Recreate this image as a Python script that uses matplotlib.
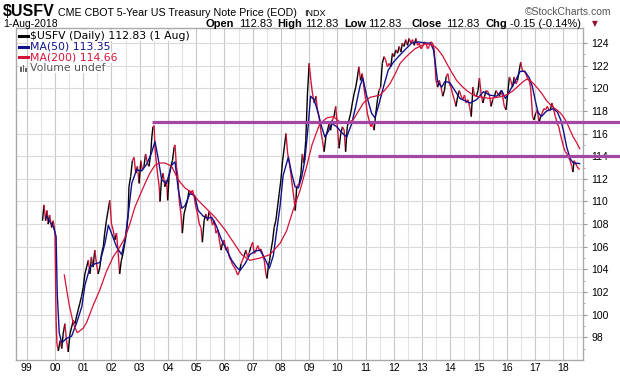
import matplotlib
matplotlib.use("Agg")
import matplotlib.pyplot as plt
from matplotlib.collections import LineCollection
from matplotlib.lines import Line2D
from matplotlib.patches import Rectangle

W, H = 620, 376

# price (decimal year, value)
price_t = [1999.56, 1999.61, 1999.67, 1999.72, 1999.76, 1999.81, 1999.88, 1999.94, 2000.00, 2000.04,
           2000.07, 2000.12, 2000.18, 2000.24, 2000.29, 2000.35, 2000.41, 2000.47, 2000.53, 2000.59,
           2000.65, 2000.71, 2000.76, 2000.82, 2000.88, 2000.94, 2001.00, 2001.06, 2001.12, 2001.18,
           2001.24, 2001.29, 2001.35, 2001.41, 2001.47, 2001.53, 2001.59, 2001.65, 2001.71, 2001.76,
           2001.82, 2001.88, 2001.94, 2002.00, 2002.06, 2002.12, 2002.18, 2002.24, 2002.29, 2002.35,
           2002.41, 2002.47, 2002.53, 2002.59, 2002.62, 2002.68, 2002.74, 2002.80, 2002.86, 2002.92,
           2002.98, 2003.04, 2003.09, 2003.15, 2003.21, 2003.27, 2003.33, 2003.39, 2003.43, 2003.47,
           2003.51, 2003.54, 2003.59, 2003.63, 2003.69, 2003.72, 2003.77, 2003.83, 2003.89, 2003.95,
           2003.99, 2004.04, 2004.10, 2004.16, 2004.22, 2004.25, 2004.30, 2004.35, 2004.40, 2004.46,
           2004.51, 2004.57, 2004.63, 2004.69, 2004.75, 2004.81, 2004.87, 2004.93, 2004.99, 2005.05,
           2005.11, 2005.17, 2005.22, 2005.28, 2005.34, 2005.40, 2005.46, 2005.52, 2005.58, 2005.64,
           2005.70, 2005.76, 2005.82, 2005.88, 2005.93, 2005.99, 2006.05, 2006.11, 2006.17, 2006.23,
           2006.29, 2006.35, 2006.41, 2006.47, 2006.53, 2006.59, 2006.64, 2006.70, 2006.76, 2006.82,
           2006.88, 2006.94, 2007.00, 2007.06, 2007.12, 2007.18, 2007.24, 2007.29, 2007.35, 2007.41,
           2007.47, 2007.51, 2007.55, 2007.60, 2007.65, 2007.71, 2007.76, 2007.82, 2007.88, 2007.94,
           2008.00, 2008.06, 2008.12, 2008.18, 2008.24, 2008.29, 2008.35, 2008.41, 2008.47, 2008.51,
           2008.56, 2008.65, 2008.71, 2008.76, 2008.82, 2008.88, 2008.94, 2009.00, 2009.06, 2009.12,
           2009.18, 2009.24, 2009.29, 2009.35, 2009.41, 2009.47, 2009.53, 2009.59, 2009.65, 2009.71,
           2009.76, 2009.82, 2009.88, 2009.94, 2010.00, 2010.06, 2010.12, 2010.18, 2010.24, 2010.29,
           2010.35, 2010.41, 2010.47, 2010.53, 2010.59, 2010.65, 2010.71, 2010.76, 2010.82, 2010.88,
           2010.94, 2011.00, 2011.06, 2011.12, 2011.18, 2011.24, 2011.30, 2011.36, 2011.42, 2011.47,
           2011.53, 2011.59, 2011.65, 2011.71, 2011.77, 2011.83, 2011.89, 2011.95, 2012.01, 2012.07,
           2012.13, 2012.19, 2012.25, 2012.30, 2012.36, 2012.42, 2012.48, 2012.54, 2012.60, 2012.66,
           2012.72, 2012.78, 2012.84, 2012.90, 2012.96, 2013.02, 2013.08, 2013.14, 2013.19, 2013.25,
           2013.31, 2013.37, 2013.43, 2013.49, 2013.55, 2013.61, 2013.67, 2013.73, 2013.79, 2013.85,
           2013.91, 2013.97, 2014.02, 2014.08, 2014.14, 2014.20, 2014.26, 2014.32, 2014.38, 2014.44,
           2014.50, 2014.56, 2014.62, 2014.68, 2014.74, 2014.80, 2014.86, 2014.92, 2014.98, 2015.03,
           2015.09, 2015.15, 2015.21, 2015.27, 2015.33, 2015.39, 2015.44, 2015.50, 2015.56, 2015.62,
           2015.68, 2015.74, 2015.79, 2015.85, 2015.91, 2015.97, 2016.03, 2016.09, 2016.14, 2016.20,
           2016.26, 2016.32, 2016.38, 2016.44, 2016.49, 2016.55, 2016.61, 2016.67, 2016.73, 2016.79,
           2016.84, 2016.88, 2016.91, 2016.96, 2017.02, 2017.08, 2017.14, 2017.19, 2017.25, 2017.31,
           2017.37, 2017.43, 2017.49, 2017.54, 2017.60, 2017.66, 2017.72, 2017.78, 2017.84, 2017.89,
           2017.95, 2018.01, 2018.07, 2018.13, 2018.19, 2018.24, 2018.30, 2018.34, 2018.38, 2018.43,
           2018.48, 2018.54, 2018.58]
price_v = [108.3, 109.7, 108.3, 109.2, 108.0, 108.8, 107.7, 108.3, 107.2, 99.5,
           97.4, 96.8, 97.7, 97.0, 98.3, 99.2, 97.7, 96.7, 98.3, 98.9,
           99.5, 99.2, 99.8, 100.4, 101.0, 101.6, 102.4, 103.6, 104.2, 104.8,
           103.6, 105.1, 104.2, 105.7, 104.5, 103.6, 104.2, 105.4, 106.0, 107.2,
           108.3, 109.2, 110.1, 108.0, 107.5, 106.6, 107.2, 105.4, 103.6, 104.8,
           105.4, 106.3, 107.2, 108.9, 111.3, 112.2, 113.6, 113.9, 112.5, 113.1,
           111.6, 113.6, 112.8, 113.1, 114.2, 113.4, 113.1, 114.2, 115.7, 116.6,
           116.7, 114.8, 113.4, 112.5, 111.3, 110.0, 111.9, 112.5, 111.3, 111.9,
           110.1, 112.2, 113.1, 113.6, 114.8, 115.0, 113.1, 112.2, 110.1, 108.9,
           107.2, 108.9, 109.5, 110.1, 111.0, 110.7, 111.0, 110.4, 109.5, 108.9,
           108.0, 107.7, 106.4, 108.3, 108.9, 108.3, 109.1, 108.6, 107.9, 108.3,
           107.2, 107.5, 106.6, 105.7, 106.3, 106.6, 105.7, 106.0, 105.1, 104.8,
           104.4, 104.2, 103.9, 103.5, 103.8, 104.5, 104.8, 105.2, 105.7, 105.1,
           105.5, 106.0, 106.4, 105.4, 105.7, 106.1, 105.7, 105.8, 105.4, 104.8,
           103.6, 103.2, 104.2, 104.8, 105.7, 106.6, 107.7, 108.3, 109.5, 110.7,
           111.9, 113.6, 114.8, 116.0, 114.2, 113.6, 112.5, 111.3, 110.1, 109.2,
           111.3, 111.6, 112.5, 114.2, 113.4, 115.4, 119.5, 122.2, 120.7, 119.5,
           118.7, 119.3, 118.1, 117.5, 116.3, 115.4, 114.4, 115.7, 116.3, 116.9,
           116.3, 117.2, 117.5, 118.4, 116.6, 114.7, 116.0, 116.6, 116.3, 114.4,
           116.6, 117.2, 117.8, 118.7, 119.5, 120.1, 121.0, 121.9, 120.7, 121.3,
           120.1, 119.0, 117.8, 117.2, 116.6, 116.9, 116.3, 117.8, 119.0, 119.8,
           120.1, 122.2, 122.8, 122.5, 121.9, 122.2, 121.9, 123.1, 122.8, 123.4,
           123.1, 123.7, 123.2, 124.0, 123.7, 124.3, 123.8, 124.4, 124.0, 124.3,
           123.8, 124.4, 123.8, 124.0, 123.5, 123.7, 124.1, 124.0, 123.5, 123.7,
           124.1, 124.0, 123.4, 120.7, 120.1, 120.7, 120.1, 119.3, 119.8, 121.0,
           121.3, 120.4, 120.1, 119.5, 119.0, 118.4, 119.3, 119.8, 119.3, 119.0,
           119.4, 118.7, 119.0, 118.4, 117.5, 120.1, 119.3, 119.3, 119.8, 120.9,
           119.5, 118.7, 119.3, 119.8, 119.7, 119.3, 118.4, 119.0, 119.3, 119.8,
           119.5, 119.3, 119.8, 119.3, 118.4, 118.1, 119.5, 121.0, 120.7, 120.1,
           121.0, 120.4, 120.7, 121.6, 122.3, 121.6, 121.5, 121.3, 120.9, 120.7,
           120.1, 118.7, 117.5, 117.2, 117.8, 118.1, 116.9, 117.5, 117.8, 118.2,
           118.1, 118.4, 118.1, 118.1, 118.7, 118.1, 117.5, 116.9, 116.6, 116.0,
           115.4, 114.8, 114.4, 114.2, 113.9, 113.6, 113.1, 112.6, 113.6, 113.4,
           113.1, 112.9, 112.83]

ma50_t = [1999.71, 1999.82, 1999.94, 2000.04, 2000.08, 2000.15, 2000.24, 2000.41, 2000.59, 2000.77,
          2000.95, 2001.06, 2001.24, 2001.42, 2001.59, 2001.77, 2001.89, 2002.00, 2002.18, 2002.36,
          2002.48, 2002.60, 2002.72, 2002.89, 2003.07, 2003.25, 2003.42, 2003.54, 2003.64, 2003.78,
          2003.95, 2004.13, 2004.25, 2004.37, 2004.49, 2004.60, 2004.78, 2004.95, 2005.07, 2005.25,
          2005.40, 2005.55, 2005.72, 2005.90, 2006.08, 2006.26, 2006.43, 2006.55, 2006.73, 2006.90,
          2007.08, 2007.26, 2007.44, 2007.59, 2007.73, 2007.85, 2007.97, 2008.08, 2008.26, 2008.38,
          2008.50, 2008.62, 2008.74, 2008.85, 2008.97, 2009.05, 2009.17, 2009.29, 2009.44, 2009.56,
          2009.68, 2009.80, 2009.98, 2010.15, 2010.33, 2010.51, 2010.65, 2010.80, 2010.90, 2011.04,
          2011.21, 2011.33, 2011.45, 2011.63, 2011.80, 2011.98, 2012.16, 2012.39, 2012.63, 2012.87,
          2013.10, 2013.30, 2013.40, 2013.46, 2013.55, 2013.69, 2013.81, 2013.98, 2014.16, 2014.34,
          2014.52, 2014.70, 2014.93, 2015.17, 2015.40, 2015.64, 2015.82, 2015.95, 2016.11, 2016.29,
          2016.47, 2016.64, 2016.80, 2016.90, 2017.00, 2017.10, 2017.22, 2017.41, 2017.65, 2017.79,
          2017.91, 2018.00, 2018.12, 2018.24, 2018.35, 2018.58]
ma50_v = [108.7, 108.2, 107.8, 106.9, 101.9, 98.4, 97.5, 97.9, 98.1, 99.3,
          100.7, 102.6, 104.2, 104.5, 104.6, 106.3, 107.9, 107.2, 106.0, 105.3,
          106.6, 109.0, 111.6, 112.8, 112.7, 113.3, 114.3, 115.3, 114.0, 111.9,
          111.6, 113.2, 113.5, 111.0, 109.4, 109.6, 110.7, 110.5, 109.2, 108.7,
          108.5, 108.6, 107.8, 106.6, 105.7, 104.8, 104.2, 103.9, 104.5, 105.3,
          105.6, 105.7, 104.9, 104.1, 105.2, 107.4, 109.6, 112.3, 113.9, 112.5,
          111.3, 111.2, 112.2, 113.7, 116.8, 119.3, 119.0, 118.1, 116.6, 115.7,
          116.2, 116.9, 116.6, 116.1, 115.7, 116.9, 118.4, 120.2, 120.9, 119.3,
          117.8, 117.4, 118.4, 120.1, 121.6, 122.3, 122.8, 123.4, 124.0, 124.1,
          124.0, 124.0, 123.4, 122.3, 120.6, 120.1, 120.6, 120.5, 119.8, 119.1,
          118.9, 118.7, 119.0, 119.7, 119.4, 119.3, 119.8, 119.1, 119.8, 120.6,
          121.5, 121.5, 120.9, 120.2, 119.0, 117.9, 117.5, 118.0, 118.2, 117.9,
          117.2, 116.3, 114.8, 113.8, 113.4, 113.35]

ma200_t = [2000.33, 2000.50, 2000.65, 2000.79, 2001.00, 2001.12, 2001.35, 2001.59, 2001.82, 2002.06,
           2002.30, 2002.48, 2002.65, 2002.83, 2003.00, 2003.19, 2003.36, 2003.54, 2003.70, 2003.90,
           2004.13, 2004.37, 2004.60, 2004.84, 2005.07, 2005.43, 2005.67, 2006.02, 2006.37, 2006.61,
           2006.90, 2007.26, 2007.61, 2007.97, 2008.20, 2008.44, 2008.68, 2008.90, 2009.10, 2009.38,
           2009.64, 2009.86, 2010.05, 2010.21, 2010.40, 2010.56, 2010.75, 2010.92, 2011.15, 2011.51,
           2011.70, 2011.86, 2012.05, 2012.22, 2012.40, 2012.57, 2012.75, 2012.92, 2013.10, 2013.28,
           2013.45, 2013.57, 2013.72, 2013.87, 2014.05, 2014.22, 2014.40, 2014.58, 2014.75, 2014.93,
           2015.15, 2015.40, 2015.65, 2015.87, 2016.05, 2016.23, 2016.40, 2016.58, 2016.70, 2016.82,
           2016.95, 2017.06, 2017.25, 2017.41, 2017.60, 2017.77, 2017.90, 2018.00, 2018.12, 2018.24,
           2018.35, 2018.47, 2018.58]
ma200_v = [103.5, 100.9, 99.2, 98.4, 98.8, 99.3, 100.8, 102.2, 103.8, 105.1,
           106.0, 106.8, 108.0, 109.5, 110.5, 111.6, 112.5, 113.2, 113.4, 113.4,
           113.1, 111.9, 111.2, 110.8, 110.1, 109.2, 108.6, 107.5, 106.2, 105.3,
           104.8, 105.0, 105.3, 106.3, 107.4, 109.3, 111.0, 113.0, 115.0, 116.9,
           117.4, 117.5, 117.1, 116.9, 117.0, 117.2, 118.0, 118.7, 119.2, 119.4,
           119.9, 120.4, 121.3, 122.2, 122.7, 123.1, 123.5, 123.7, 123.9, 123.9,
           123.7, 123.4, 122.9, 122.2, 121.4, 120.7, 120.2, 119.8, 119.5, 119.3,
           119.2, 119.1, 119.2, 119.3, 119.5, 119.8, 120.2, 120.6, 120.8, 120.7,
           120.4, 120.1, 119.5, 118.9, 118.4, 118.1, 117.8, 117.5, 117.0, 116.3,
           115.7, 115.2, 114.66]

year_ticks = list(range(1999, 2019))
year_labels = ["99", "00", "01", "02", "03", "04", "05", "06", "07", "08",
               "09", "10", "11", "12", "13", "14", "15", "16", "17", "18"]
price_ticks = list(range(98, 125, 2))

# horizontal support lines: level, start year
support_levels = [117.0, 114.0]
support_starts = [2003.45, 2009.30]

RED = "#d41238"
NAVY = "#10108c"
PURPLE = "#a446a4"


def fx(x):
    return x / W


def fy(y):
    return 1 - y / H


fig = plt.figure(figsize=(W / 100, H / 100), dpi=100)
ax = fig.add_axes([fx(16), fy(360), (582.7 - 16) / W, (360 - 28) / H])
ax.set_xlim(1998.62, 2018.686)
ax.set_ylim(95.99, 125.33)

# grid
for yr in year_ticks:
    ax.axvline(yr, color="#c8c8c8", lw=0.8, zorder=0)
    ax.axvline(yr + 0.5, color="#e2e2e2", lw=0.8, zorder=0)
for v in price_ticks:
    ax.axhline(v, color="#dadada", lw=0.8, zorder=0)

# price line: black on strong up moves, red otherwise
segs = [[(price_t[i], price_v[i]), (price_t[i + 1], price_v[i + 1])] for i in range(len(price_t) - 1)]
cols = ["black" if price_v[i + 1] - price_v[i] >= 0.5 else RED for i in range(len(price_t) - 1)]
ax.add_collection(LineCollection(segs, colors=cols, linewidths=1.0, zorder=2))

ax.plot(ma50_t, ma50_v, color=NAVY, lw=1.0, zorder=3)
ax.plot(ma200_t, ma200_v, color=RED, lw=0.9, zorder=3)

for lvl, st in zip(support_levels, support_starts):
    ax.plot([st, 2020.2], [lvl, lvl], color=PURPLE, lw=2.3, solid_capstyle="butt",
            clip_on=False, zorder=10)

ax.set_xticks(year_ticks)
ax.set_xticklabels(year_labels)
ax.set_yticks(price_ticks)
ax.set_yticks(range(97, 125, 2), minor=True)
ax.yaxis.tick_right()
ax.tick_params(axis="y", which="major", length=3, color="#999999", labelsize=7.5, pad=3)
ax.tick_params(axis="y", which="minor", length=1.5, color="#999999")
ax.tick_params(axis="x", length=0, labelsize=7.5, pad=2.5)
for lab in ax.get_xticklabels() + ax.get_yticklabels():
    lab.set_fontfamily("Liberation Sans")
for s in ax.spines.values():
    s.set_color("#aaaaaa")
    s.set_linewidth(1.0)

# header
fig.text(fx(3), fy(16), "$USFV", fontsize=11.5, fontweight="bold", family="Liberation Sans")
fig.text(fx(58), fy(16), "CME CBOT 5-Year US Treasury Note Price (EOD)", fontsize=7.7,
         family="Liberation Sans")
fig.text(fx(304), fy(16), "INDX", fontsize=6.5, family="Liberation Sans")
fig.text(fx(611), fy(15), "\u00a9StockCharts.com", fontsize=7.5, color="#555555",
         family="Liberation Sans", ha="right")
fig.text(fx(3), fy(27), "1-Aug-2018", fontsize=7.5, family="Liberation Sans")

row2 = [(206, "Open", True), (239, "112.83", False), (277, "High", True), (305, "112.83", False),
        (344, "Low", True), (368, "112.83", False), (411, "Close", True), (446, "112.83", False),
        (486, "Chg", True), (510, "-0.15 (-0.14%)", False)]
for x, s, b in row2:
    fig.text(fx(x), fy(27), s, fontsize=8, family="Liberation Sans",
             fontweight="bold" if b else "normal")
fig.text(fx(592), fy(26), "\u25bc", fontsize=5.5, color="#8c1030", family="DejaVu Sans")

# legend block
leg = [(35.7, "$USFV (Daily) 112.83 (1 Aug)", "black"),
       (46.7, "MA(50) 113.35", NAVY),
       (57.3, "MA(200) 114.66", RED),
       (67.7, "Volume undef", "#555555")]
for i, (y, s, c) in enumerate(leg):
    fig.text(fx(30), fy(y), s, fontsize=7.8, color=c, family="DejaVu Sans", va="center",
             bbox=dict(facecolor="white", edgecolor="none", pad=0.5), zorder=20)
    if i < 3:
        fig.add_artist(Line2D([fx(19.5), fx(27.5)], [fy(y), fy(y)], color=c, lw=2.2, zorder=21))
for k, hgt in enumerate([5, 7, 4]):
    fig.add_artist(Rectangle((fx(20 + k * 2.6), fy(y + 4)), 1.8 / W, hgt / H,
                             facecolor="#666666", edgecolor="none", zorder=21))

fig.savefig("out.png", dpi=100)
